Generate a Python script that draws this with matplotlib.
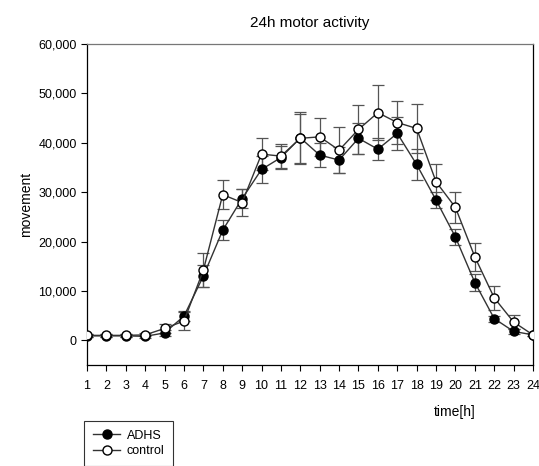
import matplotlib
matplotlib.use("Agg")
import matplotlib.pyplot as plt
from matplotlib.ticker import FuncFormatter

plt.rcParams["font.family"] = ["Liberation Sans", "DejaVu Sans"]

hours = list(range(1, 25))
adhs = [900, 900, 900, 800, 1500, 4900, 13000, 22300, 28700, 34600, 37000, 41000,
        37500, 36500, 40900, 38700, 41900, 35600, 28400, 20900, 11700, 4400, 1800, 1100]
adhs_err = [300, 300, 300, 300, 600, 1000, 2200, 2000, 2000, 2800, 2400, 5200,
            2400, 2700, 3100, 2200, 3400, 3200, 1700, 1600, 1700, 600, 500, 300]
control = [1000, 1000, 1000, 1100, 2400, 3900, 14200, 29500, 27900, 37700, 37300, 40900,
           41200, 38500, 42700, 46100, 44100, 42900, 32100, 26900, 16900, 8600, 3700, 1100]
control_err = [300, 300, 300, 300, 1000, 1800, 3400, 3000, 2800, 3300, 2400, 4900,
               3900, 4600, 4900, 5500, 4300, 4900, 3700, 3200, 2900, 2400, 1400, 300]
yticks = [0, 10000, 20000, 30000, 40000, 50000, 60000]

fig = plt.figure(figsize=(5.39, 4.66), dpi=100)
ax = fig.add_axes([87 / 539, 1 - 365 / 466, 446 / 539, 321 / 466])

eb = dict(ecolor="#555555", elinewidth=0.9, capsize=4, capthick=0.9)
ax.errorbar(hours, control, yerr=control_err, fmt="none", **eb)
ax.errorbar(hours, adhs, yerr=adhs_err, fmt="none", **eb)
ax.plot(hours, adhs, color="#333333", lw=1, marker="o", ms=6.5,
        mfc="black", mec="black", label="ADHS", zorder=3)
ax.plot(hours, control, color="#333333", lw=1, marker="o", ms=6.5,
        mfc="white", mec="black", label="control", zorder=4)

ax.set_xlim(1, 24)
ax.set_ylim(-5000, 60000)
ax.set_xticks(hours)
ax.set_yticks(yticks)
ax.yaxis.set_major_formatter(FuncFormatter(lambda v, p: f"{int(v):,}"))
ax.tick_params(labelsize=9, direction="out", length=4, width=0.8)
ax.tick_params(axis="x", pad=7)
for s in ax.spines.values():
    s.set_linewidth(0.9)
ax.spines["top"].set_color("#777777")

ax.set_title("24h motor activity", fontsize=11, pad=12)
ax.set_ylabel("movement", fontsize=10, labelpad=4)
fig.text(455 / 539, 1 - 412 / 466, "time[h]", fontsize=10, ha="center", va="center")

leg = fig.legend(loc="upper left", bbox_to_anchor=(84 / 539, 1 - 421 / 466),
                 borderaxespad=0, fontsize=9, frameon=True, fancybox=False,
                 edgecolor="black", handlelength=2.2, borderpad=0.7,
                 labelspacing=0.3, handletextpad=0.5)
leg.get_frame().set_linewidth(0.8)

fig.savefig("out.png", dpi=100)
